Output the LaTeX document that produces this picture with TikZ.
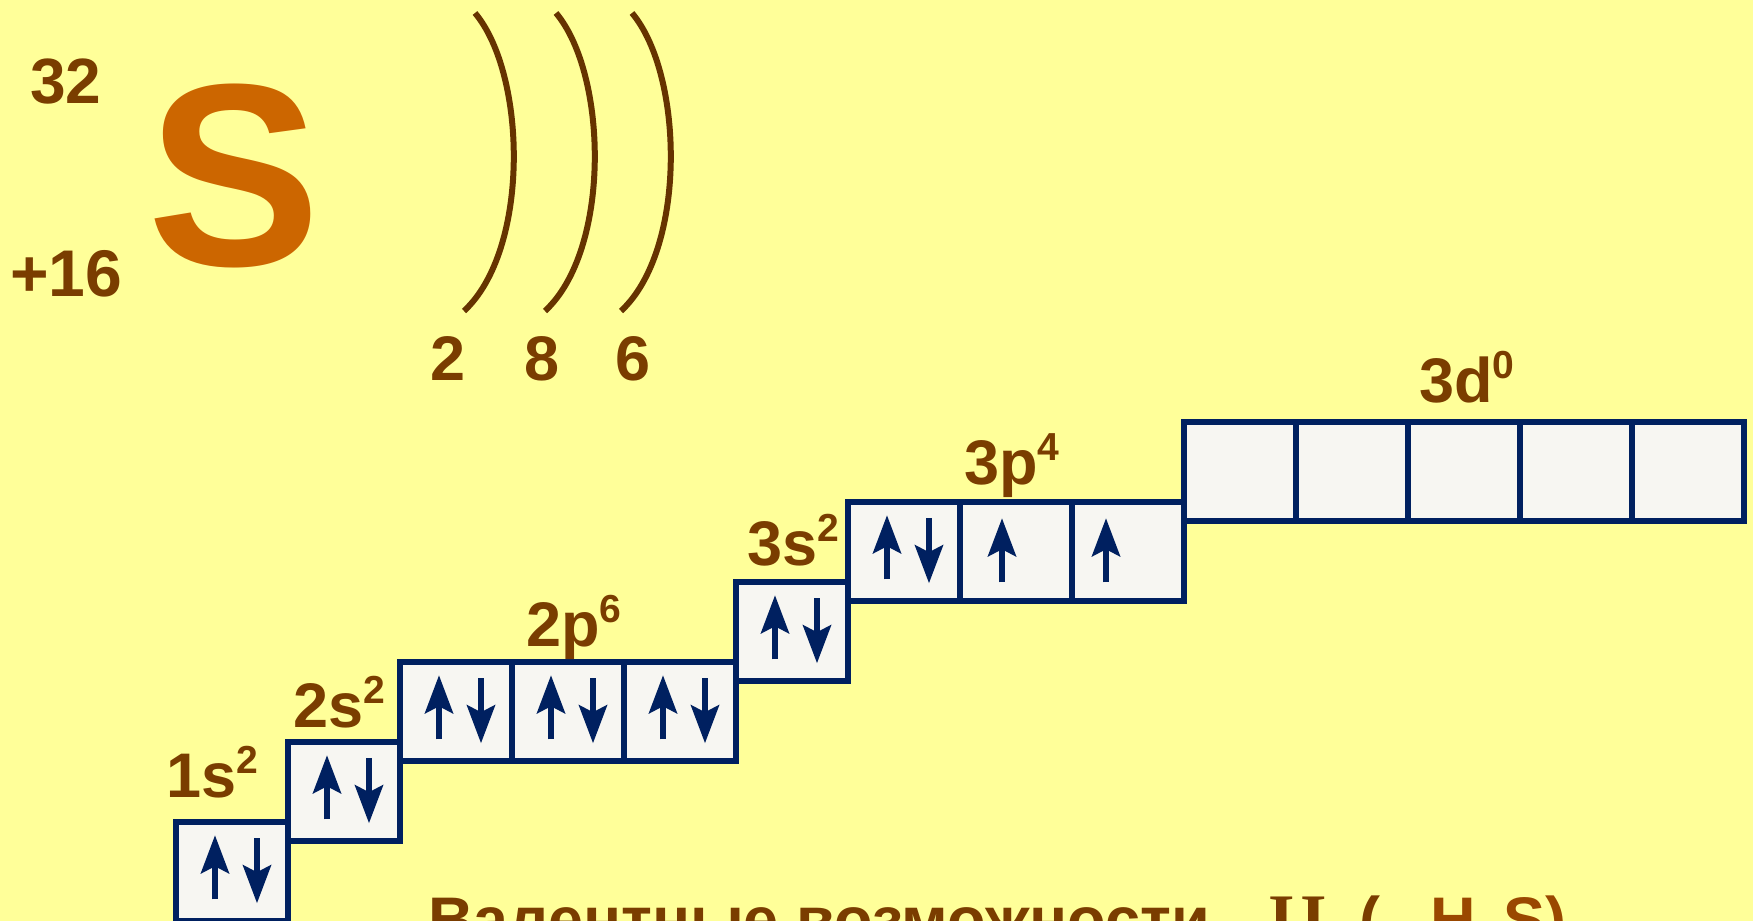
\documentclass[tikz,border=0pt]{standalone}
\usepackage{fontspec}
\setmainfont{Liberation Sans}
\newfontfamily\serifbold{Liberation Serif}
\usetikzlibrary{arrows.meta,calc}
\definecolor{bg}{HTML}{FFFF99}
\definecolor{brn}{HTML}{7A3D00}
\definecolor{brnb}{HTML}{9A4800}
\definecolor{org}{HTML}{CC6600}
\definecolor{arcc}{HTML}{663300}
\definecolor{navy}{HTML}{002060}
\definecolor{cellf}{HTML}{F7F6F2}
\newcommand\upr[1]{\raisebox{0.38em}{\scalebox{0.62}{#1}}}
\newcommand\dnr[1]{\raisebox{-0.2em}{\scalebox{0.62}{#1}}}
\newcommand\pairsp[1]{%
  \draw[spin] ($(#1.center)+(-17,28)$) -- ($(#1.center)+(-17,-36)$);
  \draw[spin] ($(#1.center)+(25,-33)$) -- ($(#1.center)+(25,32)$);}
\newcommand\onesp[2]{%
  \draw[spin] ($(#1.center)+(#2,31)$) -- ($(#1.center)+(#2,-33)$);}
\begin{document}
\begin{tikzpicture}[x=0.5pt,y=-0.5pt,
  cell/.style={draw=navy, fill=cellf, line width=3pt, minimum width=56pt,
    minimum height=49.25pt, inner sep=0pt, outer sep=0pt},
  lab/.style={text=brn, font=\bfseries\fontsize{31.5}{36}\selectfont, anchor=base, inner sep=0pt},
  spin/.style={draw=navy, line width=3pt, -{Stealth[length=19pt,width=14pt,inset=3.5pt]}},
  shell/.style={draw=arcc, line width=3pt}]
\useasboundingbox (0,0) rectangle (1753,921);
\clip (0,0) rectangle (1753,921);
\fill[bg] (0,0) rectangle (1753,921);

% element symbol
\node[text=org, font=\bfseries\fontsize{130}{140}\selectfont, anchor=base, inner sep=0pt] (S) at (234,265) {S};
\node[text=brn, font=\bfseries\fontsize{32}{36}\selectfont, anchor=base, inner sep=0pt] (mass) at (66,103) {32};
\node[text=brn, font=\bfseries\fontsize{33}{38}\selectfont, anchor=base, inner sep=0pt] (charge) at (66,296) {+16};

% shells
\draw[shell] (475,13) .. controls (527,75) and (530,250) .. (464,311);
\draw[shell] (556,13) .. controls (608,75) and (611,250) .. (545,311);
\draw[shell] (632,13) .. controls (684,75) and (687,250) .. (621,311);
\node[lab] (n1) at (448,380) {2};
\node[lab] (n2) at (542,380) {8};
\node[lab] (n3) at (633,380) {6};

% cells
\node[cell] (s1) at (232,871.25) {};
\node[cell] (s2) at (344,791.25) {};
\node[cell] (p2a) at (456,711.25) {};
\node[cell] (p2b) at (568,711.25) {};
\node[cell] (p2c) at (680,711.25) {};
\node[cell] (s3) at (792,631.25) {};
\node[cell] (p3a) at (904,551.25) {};
\node[cell] (p3b) at (1016,551.25) {};
\node[cell] (p3c) at (1128,551.25) {};
\node[cell] (d3a) at (1240,471.25) {};
\node[cell] (d3b) at (1352,471.25) {};
\node[cell] (d3c) at (1464,471.25) {};
\node[cell] (d3d) at (1576,471.25) {};
\node[cell] (d3e) at (1688,471.25) {};

% spins
\pairsp{s1}
\pairsp{s2}
\pairsp{p2a}
\pairsp{p2b}
\pairsp{p2c}
\pairsp{s3}
\pairsp{p3a}
\onesp{p3b}{-14}
\onesp{p3c}{-22}

% labels
\node[lab] (l1s) at (212,797) {1s\upr{2}};
\node[lab] (l2s) at (339,727) {2s\upr{2}};
\node[lab] (l2p) at (574,646) {2p\upr{6}};
\node[lab] (l3s) at (793,565) {3s\upr{2}};
\node[lab] (l3p) at (1012,484) {3p\upr{4}};
\node[lab] (l3d) at (1467,402) {3d\upr{0}};

% bottom caption (cut off by the frame, as in the original)
\node[text=brn, font=\bfseries\fontsize{31.5}{36}\selectfont, anchor=base west, inner sep=0pt] (cap) at (428,941)
  {Валентные возможности\hspace{29pt}{\serifbold\bfseries\fontsize{34}{38}\selectfont I\hspace{3pt}I}\hspace{16pt}(\hspace{25pt}\textcolor{brnb}{H\hspace{1pt}\dnr{2}\hspace{2pt}S)}};
\end{tikzpicture}
\end{document}
